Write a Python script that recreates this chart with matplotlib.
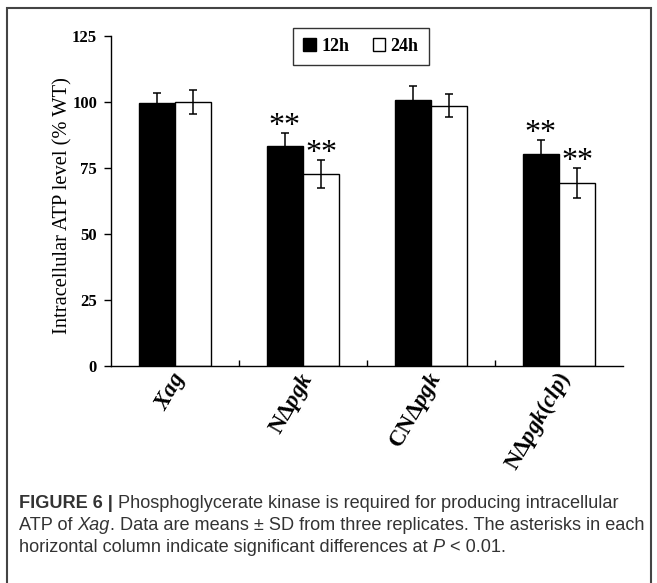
import numpy as np
import matplotlib
matplotlib.use("Agg")
import matplotlib.pyplot as plt
from matplotlib.patches import Rectangle
from matplotlib.transforms import ScaledTranslation

# data
strains = [r"$\mathit{Xag}$", r"$\mathrm{N\Delta}\mathit{pgk}$",
           r"$\mathrm{CN\Delta}\mathit{pgk}$", r"$\mathrm{N\Delta}\mathit{pgk(clp)}$"]
atp_12h = [99.8, 83.4, 100.8, 80.2]
sd_12h = [3.6, 4.7, 5.3, 5.3]
atp_24h = [100.0, 72.7, 98.6, 69.2]
sd_24h = [4.5, 5.2, 4.4, 5.7]
star_12h = ["", "**", "", "**"]
star_24h = ["", "**", "", "**"]

plt.rcParams['mathtext.fontset'] = 'custom'
plt.rcParams['mathtext.rm'] = 'Liberation Serif:bold'
plt.rcParams['mathtext.it'] = 'Liberation Serif:italic:bold'
plt.rcParams['mathtext.bf'] = 'Liberation Serif:bold'

serif = 'Liberation Serif'

fig = plt.figure(figsize=(6.57, 5.83), dpi=100)
ax = fig.add_axes([111/657, 1 - 366/583, 512/657, 330/583])

x = np.arange(len(strains))
w = 0.285
err_kw = dict(ecolor='black', capsize=2.6, elinewidth=1.1, capthick=1.1)
ax.bar(x - w/2, atp_12h, w, color='black', edgecolor='black', lw=1,
       yerr=sd_12h, error_kw=err_kw, label='12h', zorder=2)
ax.bar(x + w/2, atp_24h, w, color='white', edgecolor='black', lw=1,
       yerr=sd_24h, error_kw=err_kw, label='24h', zorder=2)

# significance stars
for i in range(len(x)):
    if star_12h[i]:
        ax.text(x[i] - w/2, atp_12h[i] + sd_12h[i] - 3, star_12h[i], ha='center', va='bottom',
                fontsize=23, family=serif)
    if star_24h[i]:
        ax.text(x[i] + w/2, atp_24h[i] + sd_24h[i] - 3, star_24h[i], ha='center', va='bottom',
                fontsize=23, family=serif)

ax.set_xlim(-0.5, len(strains) - 0.5)
ax.set_ylim(0, 125)
ax.set_yticks([0, 25, 50, 75, 100, 125])
ax.set_yticklabels(['0', '25', '50', '75', '100', '125'], family=serif, fontweight='bold', fontsize=12)
ax.tick_params(axis='y', direction='out', length=5, width=1, pad=5)

ax.set_xticks(x)
ax.set_xticklabels(strains, rotation=60, ha='right', va='center', rotation_mode='anchor', fontsize=16.5)
ax.tick_params(axis='x', which='major', length=0, pad=6)
ax.set_xticks(x[:-1] + 0.5, minor=True)
ax.tick_params(axis='x', which='minor', direction='in', length=4, width=1)
for lab in ax.get_xticklabels():
    lab.set_transform(lab.get_transform() + ScaledTranslation(0.06, 0, fig.dpi_scale_trans))

for s in ['top', 'right']:
    ax.spines[s].set_visible(False)
for s in ['left', 'bottom']:
    ax.spines[s].set_linewidth(1)

ax.set_ylabel('Intracellular ATP level (% WT)', family=serif, fontsize=14.8, labelpad=0)
ax.yaxis.label.set_y(0.485)

leg = ax.legend(loc='upper center', bbox_to_anchor=(0.488, 1.052), ncol=2, frameon=True,
                fancybox=False, edgecolor='black', handlelength=0.7, handleheight=0.7,
                handletextpad=0.3, columnspacing=1.3, borderpad=0.55,
                prop=dict(family=serif, weight='bold', size=13))
leg.get_frame().set_linewidth(1)

# caption
def draw_segments(fig, x0, y0, segments, size):
    r = fig.canvas.get_renderer()
    xx = x0
    for txt, kw in segments:
        t = fig.text(xx, y0, txt, fontsize=size, va='center', ha='left', color='#333333', **kw)
        bb = t.get_window_extent(renderer=r)
        xx += bb.width / fig.bbox.width

sans = dict(family='Liberation Sans')
sans_it = dict(family='Liberation Sans', style='italic')
cap_size = 13.1
draw_segments(fig, 19/657, 1 - 503/583, [
    ('FIGURE 6 |', dict(family='Liberation Sans', weight='bold')),
    (' Phosphoglycerate kinase is required for producing intracellular', sans)], cap_size)
draw_segments(fig, 19/657, 1 - 525/583, [
    ('ATP of ', sans), ('Xag', sans_it),
    ('. Data are means \u00b1 SD from three replicates. The asterisks in each', sans)], cap_size)
draw_segments(fig, 19/657, 1 - 548/583, [
    ('horizontal column indicate significant differences at ', sans),
    ('P', sans_it), (' < 0.01.', sans)], cap_size)

fig.patches.append(Rectangle((7/657, -0.05), 644/657, 1.05 - 8/583, transform=fig.transFigure,
                             fill=False, edgecolor='#444444', lw=1.5))

fig.savefig('out.png', dpi=100)
